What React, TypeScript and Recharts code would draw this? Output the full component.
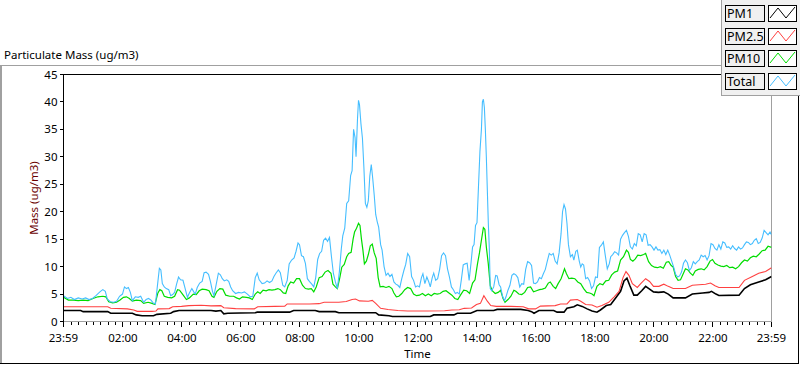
import React from 'react';
import { LineChart, Line, XAxis, YAxis, ReferenceLine, Legend, Label } from 'recharts';

const FONT = '"Noto Sans", sans-serif';

const seriesNames = ['PM1', 'PM2.5', 'PM10', 'Total'];
const seriesColors = ['#000000', '#FF4040', '#00DD00', '#45BEFF'];

const xMajorTicks = [0, 121, 241, 361, 481, 601, 721, 841, 961, 1081, 1201, 1321, 1440];
const xTickLabels = ['23:59', '02:00', '04:00', '06:00', '08:00', '10:00', '12:00', '14:00', '16:00', '18:00', '20:00', '22:00', '23:59'];
const yTicks = [0, 5, 10, 15, 20, 25, 30, 35, 40, 45];
const xTicks = [0, ...Array.from({ length: 95 }, (_, k) => 16 + 15 * k), 1440];

// [minutes since 23:59, ug/m3]
const total: [number, number][] = [[0,4.7],[8,4.2],[15,4.4],[22,4.0],[30,4.3],[38,4.1],[45,4.3],[52,4.0],[59,4.2],[66,4.7],[74,5.4],[80,5.8],[85,5.5],[89,4.1],[95,3.6],[102,3.5],[108,3.7],[114,4.6],[120,5.0],[124,6.3],[128,6.0],[132,6.2],[136,5.3],[140,3.8],[146,4.5],[152,4.4],[157,4.6],[163,3.5],[168,4.0],[173,4.2],[178,3.9],[183,3.3],[187,3.2],[191,6.5],[195,9.7],[198,9.4],[201,6.9],[205,6.3],[209,6.0],[214,5.8],[218,4.7],[222,4.9],[226,5.3],[230,6.8],[234,8.1],[238,7.6],[243,7.5],[248,5.8],[252,4.4],[256,5.2],[261,6.0],[265,5.4],[268,5.0],[272,6.2],[277,7.0],[282,7.3],[286,8.9],[290,9.0],[295,8.6],[299,7.2],[303,5.5],[306,4.7],[310,6.5],[315,8.8],[319,8.5],[323,7.8],[327,7.4],[332,7.6],[336,7.3],[340,6.3],[344,5.6],[350,5.1],[356,5.3],[362,5.2],[368,5.4],[374,5.0],[380,4.5],[385,4.6],[390,8.0],[394,8.8],[398,7.6],[404,6.9],[409,7.0],[414,7.4],[419,7.1],[424,7.4],[428,8.2],[432,8.8],[437,9.4],[441,8.9],[446,6.6],[450,6.3],[455,7.5],[459,10.5],[464,11.2],[469,11.6],[473,12.8],[477,14.3],[480,14.0],[484,12.0],[488,11.8],[492,10.6],[496,7.8],[500,7.3],[505,6.8],[509,6.3],[513,8.0],[517,11.3],[521,12.4],[525,12.8],[529,14.8],[533,15.2],[537,14.6],[541,15.3],[545,11.8],[549,8.7],[553,7.2],[557,6.0],[561,9.0],[565,13.2],[568,15.6],[572,17.0],[576,21.5],[580,22.0],[584,26.6],[587,27.5],[590,35.0],[593,33.5],[595,30.0],[598,37.0],[600,40.3],[602,39.5],[605,36.0],[608,33.4],[611,28.0],[614,21.5],[617,20.8],[620,22.0],[623,26.5],[626,28.6],[629,26.0],[632,23.0],[635,19.5],[638,18.2],[641,17.2],[645,14.0],[648,13.0],[652,10.0],[656,8.4],[660,8.8],[664,8.2],[668,8.6],[672,7.2],[676,6.8],[680,6.6],[684,6.2],[688,7.8],[692,9.2],[696,10.4],[700,12.4],[704,11.8],[708,8.2],[712,7.5],[716,6.3],[720,6.5],[724,6.3],[728,8.0],[731,8.7],[735,6.9],[739,8.1],[743,7.2],[746,6.3],[750,8.0],[753,8.8],[757,7.5],[761,7.8],[765,9.5],[769,12.0],[773,12.5],[777,12.0],[781,9.6],[785,8.1],[789,6.3],[793,5.8],[797,5.1],[801,5.3],[805,5.0],[809,7.5],[813,10.3],[817,10.5],[821,10.6],[825,7.5],[829,10.8],[832,13.6],[835,14.0],[838,17.5],[841,18.0],[844,24.5],[847,31.0],[850,35.0],[852,40.0],[854,40.5],[856,39.0],[858,35.0],[860,30.0],[862,24.0],[864,18.0],[866,13.5],[868,6.0],[871,5.6],[875,6.3],[879,8.4],[882,8.3],[886,6.7],[889,6.3],[893,4.6],[897,3.8],[900,4.5],[904,5.7],[908,6.6],[912,8.4],[916,8.7],[920,8.5],[924,8.0],[928,6.3],[932,6.9],[936,6.8],[940,9.5],[944,10.9],[948,10.7],[952,10.2],[956,7.0],[960,6.9],[964,7.2],[968,8.0],[972,7.8],[976,8.7],[980,9.5],[984,11.0],[988,12.4],[992,12.1],[996,12.4],[1000,11.0],[1004,10.5],[1008,12.5],[1012,16.0],[1015,20.0],[1018,21.3],[1021,20.5],[1024,17.9],[1027,14.0],[1031,11.8],[1035,12.2],[1038,11.2],[1042,12.8],[1045,13.0],[1049,11.0],[1052,9.9],[1055,10.5],[1058,10.3],[1062,7.8],[1066,8.0],[1070,7.4],[1074,6.0],[1078,6.5],[1082,8.1],[1086,8.0],[1090,13.5],[1094,13.9],[1098,14.5],[1102,12.0],[1106,9.6],[1110,10.5],[1113,11.8],[1117,12.2],[1121,12.7],[1125,12.5],[1129,12.1],[1133,15.0],[1137,15.7],[1141,16.2],[1145,16.6],[1149,15.5],[1153,13.6],[1157,13.2],[1161,14.2],[1165,13.8],[1169,16.0],[1173,15.8],[1177,14.5],[1181,16.0],[1185,15.8],[1189,13.9],[1193,14.0],[1197,13.6],[1201,13.0],[1205,13.6],[1209,13.0],[1213,13.1],[1217,12.4],[1221,13.0],[1225,12.2],[1229,13.0],[1233,12.1],[1237,11.0],[1241,9.9],[1245,8.6],[1249,8.1],[1253,8.3],[1257,9.0],[1261,10.6],[1265,11.2],[1269,10.7],[1273,9.3],[1277,9.8],[1281,10.9],[1285,10.5],[1289,10.9],[1293,11.2],[1297,12.1],[1301,11.8],[1305,12.0],[1309,11.2],[1313,12.0],[1317,14.2],[1321,14.0],[1325,13.3],[1329,13.0],[1333,14.0],[1337,13.2],[1341,14.5],[1345,14.3],[1349,13.5],[1353,13.6],[1357,13.2],[1361,13.8],[1365,13.3],[1369,13.0],[1373,13.6],[1377,13.2],[1381,13.4],[1385,14.0],[1389,14.5],[1393,14.4],[1397,14.0],[1401,14.2],[1405,14.8],[1409,15.1],[1413,14.2],[1417,14.4],[1421,15.2],[1425,16.6],[1429,16.2],[1433,15.8],[1437,16.3],[1440,15.8]];

const pm10: [number, number][] = [[0,4.4],[10,3.9],[20,3.9],[30,3.8],[40,3.9],[50,3.8],[60,4.2],[70,4.5],[80,4.6],[86,4.5],[92,3.6],[100,3.4],[108,3.5],[115,3.9],[122,4.4],[128,4.5],[134,4.2],[140,3.7],[148,3.9],[157,3.8],[163,3.3],[172,3.5],[180,3.3],[186,3.1],[192,5.2],[196,5.8],[200,5.6],[205,4.6],[212,4.4],[220,4.3],[226,4.6],[232,5.8],[236,5.7],[242,5.0],[250,4.0],[256,4.3],[264,5.0],[270,4.9],[276,5.6],[282,5.9],[290,5.8],[296,5.6],[302,4.6],[306,4.4],[312,5.5],[318,6.0],[324,5.9],[330,4.8],[338,4.6],[346,4.6],[352,4.3],[358,4.1],[364,4.5],[372,4.4],[378,4.3],[384,4.0],[390,5.0],[395,5.4],[400,5.1],[406,5.7],[412,5.6],[418,5.8],[424,5.7],[430,5.8],[436,6.0],[441,5.8],[447,5.2],[452,5.1],[457,6.5],[462,7.2],[468,7.0],[474,7.8],[480,7.8],[486,6.6],[492,6.0],[498,5.9],[504,6.0],[509,5.4],[514,6.3],[520,8.0],[526,8.2],[532,9.0],[538,9.3],[544,8.8],[548,6.8],[553,6.3],[557,6.0],[562,8.0],[566,9.9],[571,10.4],[576,11.8],[580,12.4],[585,12.6],[589,15.0],[592,16.3],[596,17.0],[600,17.9],[603,17.5],[606,15.0],[609,13.0],[612,10.5],[616,11.0],[620,12.2],[624,13.8],[628,14.1],[632,12.5],[636,11.5],[640,8.0],[644,6.3],[650,6.4],[656,6.2],[662,6.4],[668,6.0],[672,5.2],[677,4.5],[682,4.6],[688,5.1],[694,5.8],[700,6.2],[706,6.0],[712,5.0],[718,4.7],[724,4.8],[730,5.1],[736,4.7],[742,5.0],[748,4.7],[754,5.1],[760,5.0],[766,5.1],[772,5.5],[778,5.6],[784,5.2],[790,4.8],[796,4.2],[802,4.0],[808,4.9],[814,5.7],[820,5.6],[826,5.1],[832,7.0],[837,7.6],[842,10.5],[846,12.5],[850,14.8],[854,17.1],[857,16.8],[860,13.6],[864,10.5],[868,6.5],[872,5.6],[878,5.1],[884,5.3],[889,5.7],[894,4.2],[898,3.5],[904,4.0],[910,4.6],[916,5.7],[920,5.5],[926,5.0],[932,4.9],[938,5.3],[944,6.2],[950,6.3],[956,5.4],[962,5.6],[968,5.8],[974,5.9],[980,6.1],[986,7.0],[990,7.2],[996,6.4],[1001,6.0],[1006,6.9],[1012,7.8],[1016,8.8],[1019,9.6],[1023,8.7],[1028,7.8],[1034,7.9],[1040,7.8],[1046,7.2],[1052,6.9],[1058,6.0],[1064,5.3],[1070,5.2],[1075,5.0],[1079,4.7],[1085,6.4],[1091,6.9],[1097,6.7],[1103,7.4],[1109,7.5],[1115,8.5],[1121,9.0],[1127,9.2],[1133,11.2],[1139,11.8],[1145,13.0],[1149,12.6],[1153,11.3],[1158,11.0],[1163,11.4],[1168,12.1],[1174,12.0],[1180,12.2],[1184,12.4],[1190,10.9],[1196,10.2],[1202,9.9],[1208,9.8],[1214,10.0],[1220,9.7],[1226,10.8],[1231,10.9],[1236,10.2],[1240,9.9],[1245,8.2],[1250,7.5],[1255,7.6],[1260,8.6],[1265,9.6],[1270,9.4],[1275,8.8],[1280,8.4],[1285,9.2],[1291,9.5],[1297,9.6],[1303,9.4],[1309,10.0],[1315,11.0],[1320,11.3],[1325,10.6],[1331,10.3],[1337,10.1],[1343,10.0],[1349,10.2],[1355,9.8],[1361,9.9],[1367,9.6],[1373,10.0],[1379,10.7],[1385,11.2],[1391,11.0],[1397,11.6],[1403,11.9],[1409,11.8],[1415,12.3],[1421,12.9],[1427,13.0],[1433,13.7],[1440,13.5]];

const pm25: [number, number][] = [[0,2.7],[30,2.7],[60,2.7],[90,2.7],[96,2.4],[130,2.3],[143,2.1],[150,1.85],[180,1.85],[188,1.9],[192,2.3],[215,2.35],[222,2.7],[240,2.75],[255,2.9],[280,2.95],[300,2.85],[320,2.9],[326,2.5],[350,2.35],[388,2.3],[395,2.7],[430,2.75],[450,2.8],[455,3.2],[500,3.2],[520,3.25],[530,3.5],[560,3.5],[575,3.65],[587,4.0],[594,4.1],[602,3.75],[620,3.7],[628,3.85],[635,3.3],[645,2.4],[660,2.2],[680,2.0],[700,1.9],[740,1.9],[775,1.95],[790,2.1],[805,2.15],[815,2.4],[830,2.45],[840,3.1],[848,3.3],[855,4.7],[862,3.7],[869,2.9],[880,2.75],[910,2.75],[935,2.7],[946,2.3],[960,2.3],[970,2.8],[1000,2.9],[1011,3.2],[1024,3.2],[1031,3.9],[1045,4.0],[1052,3.7],[1062,3.1],[1075,3.0],[1085,2.6],[1095,2.9],[1109,3.5],[1120,4.5],[1130,5.5],[1138,8.0],[1144,9.1],[1150,8.4],[1157,6.9],[1167,6.2],[1175,7.0],[1184,7.8],[1192,7.3],[1200,6.4],[1211,6.4],[1221,6.8],[1230,6.4],[1240,6.0],[1265,6.0],[1279,6.6],[1306,6.8],[1316,7.0],[1325,6.5],[1333,6.2],[1374,6.2],[1385,7.5],[1401,8.2],[1414,8.8],[1428,9.1],[1440,9.8]];

const pm1: [number, number][] = [[0,2.0],[35,2.0],[40,1.8],[90,1.8],[96,1.5],[140,1.5],[148,1.2],[160,1.05],[183,1.05],[190,1.3],[218,1.5],[224,1.8],[235,2.0],[300,2.0],[310,1.9],[320,2.0],[326,1.4],[334,1.5],[360,1.55],[390,1.6],[394,1.7],[460,1.7],[468,2.0],[512,2.0],[520,1.8],[553,1.8],[560,1.6],[635,1.6],[641,1.2],[662,1.05],[669,0.9],[716,0.9],[746,0.9],[753,1.2],[794,1.2],[801,1.5],[828,1.5],[841,2.0],[875,2.0],[882,2.2],[930,2.2],[945,2.0],[952,1.8],[957,1.5],[967,2.0],[997,2.0],[1004,1.7],[1018,1.7],[1024,2.4],[1038,2.7],[1045,3.05],[1055,2.75],[1065,2.3],[1075,1.9],[1085,1.7],[1092,2.1],[1104,2.9],[1113,3.1],[1123,4.3],[1133,5.5],[1140,7.4],[1146,7.9],[1152,6.5],[1160,4.8],[1167,4.8],[1176,5.6],[1184,6.4],[1192,5.9],[1200,5.4],[1210,5.3],[1221,5.4],[1230,5.0],[1240,4.3],[1265,4.3],[1279,5.0],[1300,5.2],[1313,5.3],[1318,5.5],[1327,5.0],[1333,4.75],[1374,4.8],[1385,6.0],[1397,6.7],[1414,7.2],[1428,7.6],[1440,8.2]];

const seriesData = [pm1, pm25, pm10, total].map((s) => s.map(([t, v]) => ({ t, v })));
const seriesWidths = [1.6, 1.1, 1.2, 1.1];

const XTick = (props: any) => {
  const { x, y, payload } = props;
  const idx = xMajorTicks.indexOf(payload.value);
  const major = idx >= 0;
  return (
    <g>
      <line x1={x} y1={y} x2={x} y2={y + (major ? 5.5 : 3.5)} stroke="#000" shapeRendering="crispEdges" />
      {major && (
        <text x={x} y={y + 15.5} textAnchor="middle" dominantBaseline="central" fontSize={11.5} fontFamily={FONT} fill="#000">
          {xTickLabels[idx]}
        </text>
      )}
    </g>
  );
};

const LegendPanel = () => (
  <div style={{ position: 'relative', width: 79, height: 96, background: '#f0f0f0', borderLeft: '1px solid #a0a0a0', borderBottom: '1px solid #a0a0a0', boxSizing: 'border-box', fontFamily: FONT }}>
    {seriesNames.map((name, i) => (
      <React.Fragment key={name}>
        <div style={{ position: 'absolute', left: 3, top: 5 + i * 22.5, width: 40, height: 17, border: '1px solid #000', boxSizing: 'border-box', background: '#f0f0f0', fontSize: 12.5, lineHeight: '15px', paddingLeft: 1, color: '#000', whiteSpace: 'nowrap', overflow: 'hidden' }}>
          {name}
        </div>
        <svg style={{ position: 'absolute', left: 46, top: 5 + i * 22.5 }} width={29} height={17}>
          <rect x={0.5} y={0.5} width={28} height={16} fill="#fff" stroke="#000" />
          <polyline points="2,13 10,3 18,13 27,2" fill="none" stroke={seriesColors[i]} strokeWidth={1} />
        </svg>
      </React.Fragment>
    ))}
  </div>
);

const YLabel = (p: any) => {
  const vb = p.viewBox;
  const cx = vb.x + 19.5;
  const cy = vb.y + vb.height / 2;
  return (
    <text x={cx} y={cy} transform={`rotate(-90 ${cx} ${cy})`} textAnchor="middle" dominantBaseline="central" fontSize={11.5} fontFamily={FONT} fill="#6b0000">
      Mass (ug/m3)
    </text>
  );
};

const XLabel = (p: any) => {
  const vb = p.viewBox;
  return (
    <text x={vb.x + vb.width / 2} y={vb.y + 31.5} textAnchor="middle" dominantBaseline="central" fontSize={11.5} fontFamily={FONT} fill="#000">
      Time
    </text>
  );
};

export default function App() {
  return (
    <div style={{ position: 'absolute', left: 0, top: 0, width: 800, height: 365, background: '#fff', fontFamily: FONT }}>
      <div style={{ position: 'absolute', left: 4, top: 47, fontSize: 11.5, color: '#000', whiteSpace: 'nowrap' }}>Particulate Mass (ug/m3)</div>
      <div style={{ position: 'absolute', left: 0, top: 65, width: 721, height: 1, background: '#a0a0a0' }} />
      <div style={{ position: 'absolute', left: 0, top: 65, width: 2, height: 299, background: '#a0a0a0' }} />
      <div style={{ position: 'absolute', left: 0, top: 363, width: 799, height: 1, background: '#000' }} />
      <div style={{ position: 'absolute', left: 798, top: 96, width: 1, height: 268, background: '#000' }} />
      <div style={{ position: 'absolute', left: 0, top: 0 }}>
        <LineChart width={800} height={365} margin={{ top: 74.5, right: 28.5, bottom: 13.5, left: 13.5 }}>
          <XAxis
            dataKey="t"
            type="number"
            domain={[0, 1440]}
            ticks={xTicks}
            interval={0}
            allowDataOverflow
            height={30}
            tickSize={0}
            tickMargin={0}
            tickLine={false}
            axisLine={{ stroke: '#a0a0a0', shapeRendering: 'crispEdges' }}
            tick={(props: any) => <XTick {...props} />}
          >
            <Label content={<XLabel />} />
          </XAxis>
          <YAxis
            type="number"
            domain={[0, 45]}
            ticks={yTicks}
            interval={0}
            allowDataOverflow
            width={50}
            tickSize={4}
            tickMargin={2}
            tickLine={{ stroke: '#000', shapeRendering: 'crispEdges' }}
            axisLine={{ stroke: '#000', shapeRendering: 'crispEdges' }}
            tick={{ fill: '#000', fontSize: 11.5, fontFamily: FONT }}
          >
            <Label content={<YLabel />} />
          </YAxis>
          <ReferenceLine y={45} stroke="#000" shapeRendering="crispEdges" />
          <ReferenceLine x={1440} stroke="#a0a0a0" shapeRendering="crispEdges" />
          {seriesData.map((d, i) => (
            <Line
              key={seriesNames[i]}
              data={d}
              dataKey="v"
              name={seriesNames[i]}
              type="linear"
              stroke={seriesColors[i]}
              strokeWidth={seriesWidths[i]}
              dot={false}
              activeDot={false}
              isAnimationActive={false}
            />
          ))}
          <Legend
            layout="vertical"
            align="center"
            verticalAlign="middle"
            wrapperStyle={{ position: 'absolute', top: 0, left: 721, width: 79, height: 96 }}
            content={() => <LegendPanel />}
          />
        </LineChart>
      </div>
    </div>
  );
}
